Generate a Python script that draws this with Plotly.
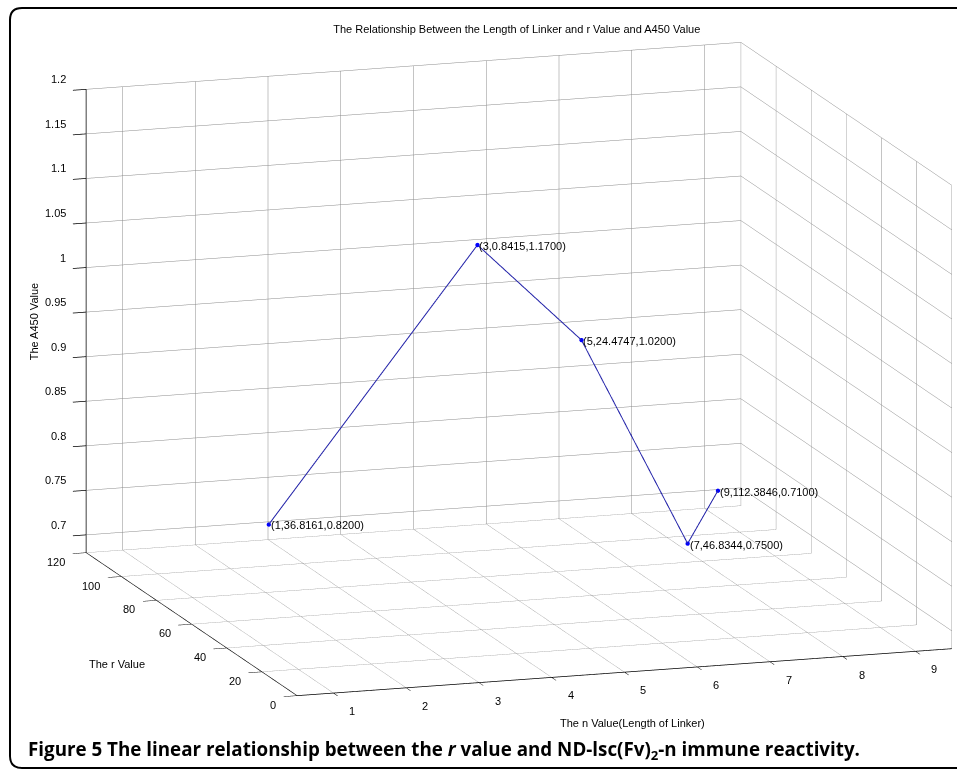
import numpy as np
import plotly.graph_objects as go

# ---- data ----
n_values = [1, 3, 5, 7, 9]
r_values = [36.8161, 0.8415, 24.4747, 46.8344, 112.3846]
a450_values = [0.82, 1.17, 1.02, 0.75, 0.71]
x_ticks = [1, 2, 3, 4, 5, 6, 7, 8, 9]
y_ticks = [0, 20, 40, 60, 80, 100, 120]
z_ticks = [0.7, 0.75, 0.8, 0.85, 0.9, 0.95, 1.0, 1.05, 1.1, 1.15, 1.2]
z_tick_text = ["0.7", "0.75", "0.8", "0.85", "0.9", "0.95", "1", "1.05", "1.1", "1.15", "1.2"]
x_range = [0.5, 9.5]
y_range = [0, 120]
z_range = [0.68, 1.2]

labels = ["(%d,%.4f,%.4f)" % (n, r, a) for n, r, a in zip(n_values, r_values, a450_values)]

FONT = "Liberation Sans, Arial, Helvetica"

fig = go.Figure()
fig.add_trace(go.Scatter3d(
    x=n_values, y=r_values, z=a450_values,
    mode="lines+markers",
    line=dict(color="#2222a8", width=2),
    marker=dict(color="#0000ff", size=2.5),
    hoverinfo="skip", showlegend=False,
))

# camera: orthographic, direction from reference geometry
d = np.array([-0.3018, -0.9276, 0.2206])
d = d / np.linalg.norm(d)
h = np.hypot(d[0], d[1])
right = np.array([-d[1], d[0], 0.0]) / h
up = np.array([-d[2] * d[0] / h, -d[2] * d[1] / h, h])
px_per_unit = 771 / 2.0          # orthographic: half the scene height per unit
box_scale = 688.5 / px_per_unit  # enlarge the box to reference size
shift_px = (40.5, 16.5)          # move box right / up on screen
center = -(shift_px[0] * right + shift_px[1] * up) / px_per_unit
eye = center + d * 4.0

axis_common = dict(
    showbackground=False,
    gridcolor="#8a8a8a", gridwidth=1,
    showline=True, linecolor="black", linewidth=1.5,
    ticks="outside", ticklen=14, tickcolor="black", tickwidth=1.5,
    showticklabels=False,
    title=dict(text=""),
    showspikes=False, zeroline=False,
)

tick_font = dict(family=FONT, size=11, color="black")
annotations = []
for n, r, a, lab in zip(n_values, r_values, a450_values, labels):
    annotations.append(dict(x=n, y=r, z=a, text=lab, showarrow=False,
                            xanchor="left", yanchor="middle", xshift=0, yshift=-1, font=tick_font))
for xt in x_ticks:
    annotations.append(dict(x=xt, y=y_range[0], z=z_range[0], text=str(xt), showarrow=False,
                            xanchor="center", yanchor="middle", xshift=19, yshift=-18, font=tick_font))
for yt in y_ticks:
    annotations.append(dict(x=x_range[0], y=yt, z=z_range[0], text=str(yt), showarrow=False,
                            xanchor="right", yanchor="middle", xshift=-19, yshift=-9, font=tick_font))
for zt, zl in zip(z_ticks, z_tick_text):
    annotations.append(dict(x=x_range[0], y=y_range[1], z=zt, text=zl, showarrow=False,
                            xanchor="right", yanchor="middle", xshift=-18, yshift=10, font=tick_font))
# axis titles
annotations.append(dict(x=5, y=y_range[0], z=z_range[0], text="The n Value(Length of Linker)",
                        showarrow=False, xanchor="center", yanchor="middle",
                        xshift=8, yshift=-51, font=tick_font))
annotations.append(dict(x=x_range[0], y=60, z=z_range[0], text="The r Value",
                        showarrow=False, xanchor="center", yanchor="middle",
                        xshift=-75, yshift=-40, font=tick_font))
annotations.append(dict(x=x_range[0], y=y_range[1], z=0.95, text="The A450 Value",
                        showarrow=False, xanchor="center", yanchor="middle", textangle=-90,
                        xshift=-52, yshift=-10, font=tick_font))

fig.update_layout(
    width=957, height=771,
    margin=dict(l=0, r=0, t=0, b=0),
    paper_bgcolor="white",
    hovermode=False,
    scene=dict(
        domain=dict(x=[0, 1], y=[0, 1]),
        xaxis=dict(range=x_range, tickvals=x_ticks, **axis_common),
        yaxis=dict(range=y_range, tickvals=y_ticks, **axis_common),
        zaxis=dict(range=z_range, tickvals=z_ticks, **axis_common),
        aspectmode="manual",
        aspectratio=dict(x=1.0 * box_scale, y=0.99 * box_scale, z=0.69 * box_scale),
        camera=dict(
            eye=dict(x=eye[0], y=eye[1], z=eye[2]),
            center=dict(x=center[0], y=center[1], z=center[2]),
            up=dict(x=0, y=0, z=1),
            projection=dict(type="orthographic"),
        ),
        annotations=annotations,
    ),
    title=dict(text="The Relationship Between the Length of Linker and r Value and A450 Value",
               x=0.54, xanchor="center", y=1 - 29 / 771, yanchor="middle",
               font=dict(family=FONT, size=11, color="black")),
)

fig.add_annotation(
    text="<b>Figure 5 The linear relationship between the <i>r</i> value and ND-lsc(Fv)<sub>2</sub>-n immune reactivity.</b>",
    xref="paper", yref="paper", x=26 / 957, y=1 - 750 / 771,
    xanchor="left", yanchor="middle", showarrow=False,
    font=dict(family="Open Sans, Noto Sans", size=18.8, color="black"),
)

# rounded frame, open on the right
fig.add_shape(
    type="path", xref="paper", yref="paper",
    path="M 1.0,%f L %f,%f Q %f,%f %f,%f L %f,%f Q %f,%f %f,%f L 1.0,%f" % (
        1 - 8 / 771, 22 / 957, 1 - 8 / 771, 10 / 957, 1 - 8 / 771, 10 / 957, 1 - 20 / 771,
        10 / 957, 1 - 756 / 771, 10 / 957, 1 - 768 / 771, 22 / 957, 1 - 768 / 771, 1 - 768 / 771),
    line=dict(color="black", width=2),
)

fig.write_html("out.html", config={"displayModeBar": False},
               post_script="document.body.style.margin='0px';")
